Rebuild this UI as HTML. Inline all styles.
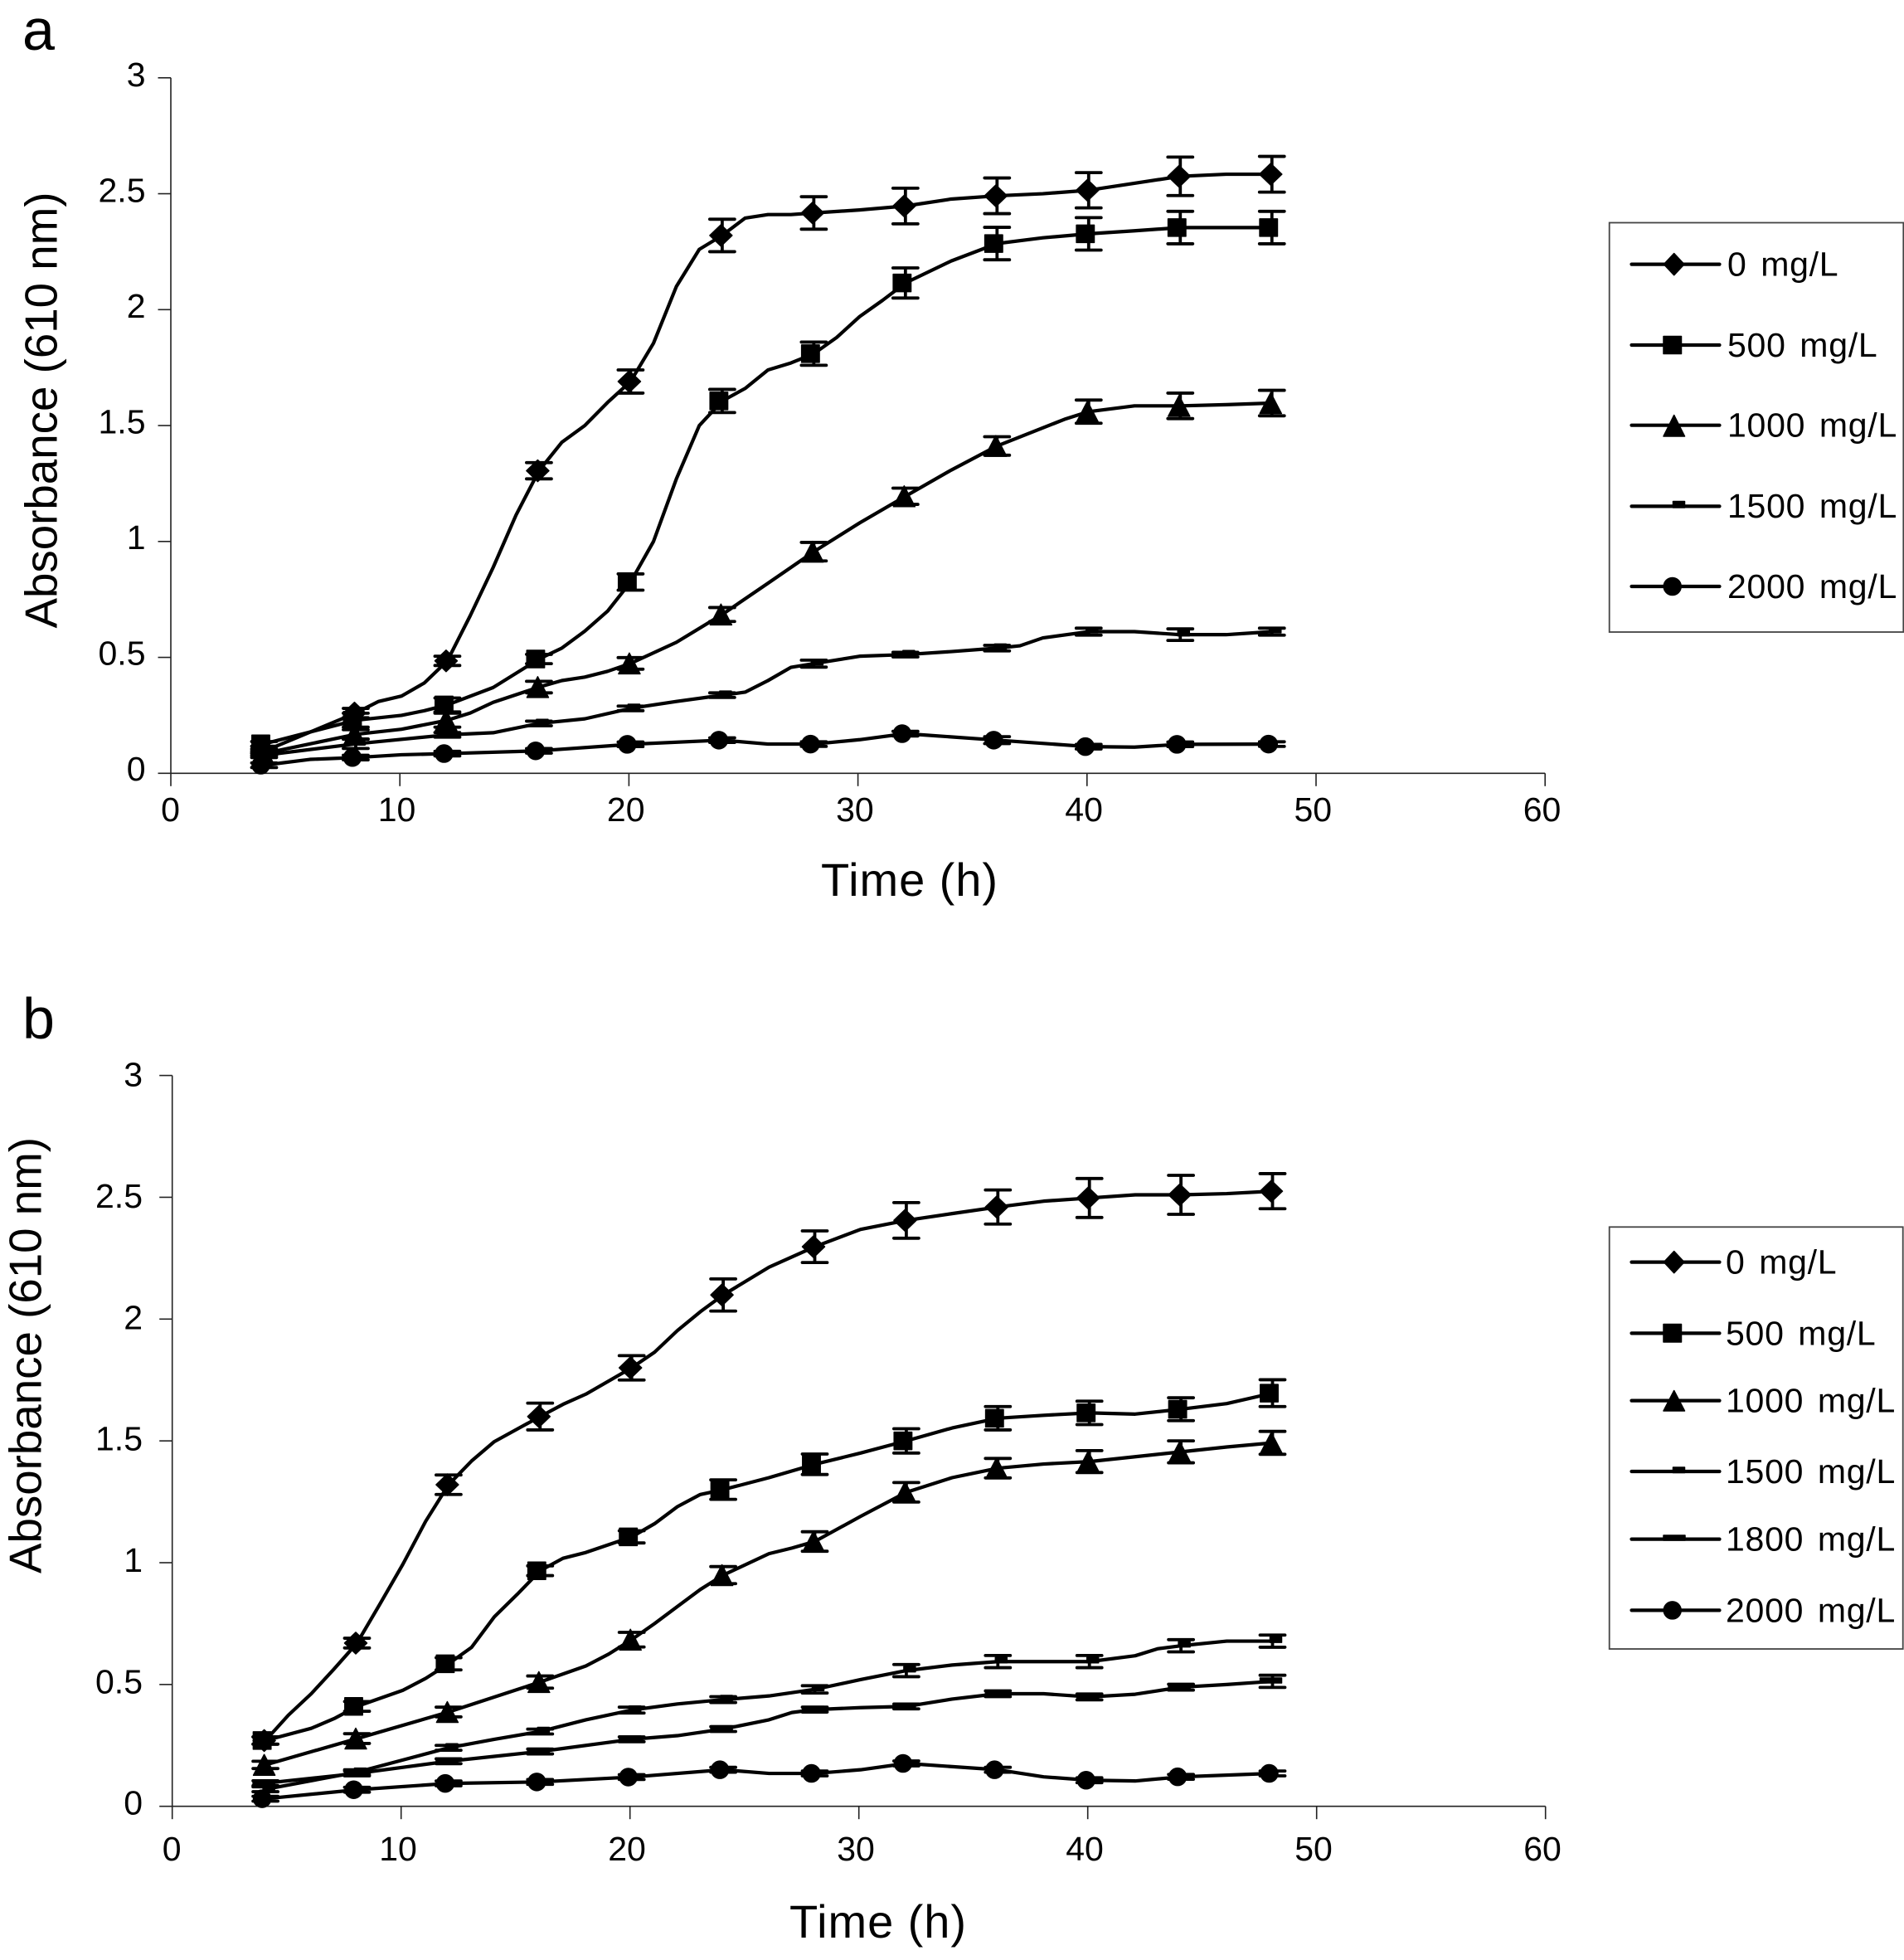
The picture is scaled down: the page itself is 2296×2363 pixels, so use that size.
<!DOCTYPE html>
<html lang="en">
<head>
<meta charset="utf-8">
<title>Absorbance over time</title>
<style>
html,body{margin:0;padding:0;background:#fff;}
svg{display:block;font-family:"Liberation Sans",Arial,sans-serif;fill:#000;}
.lg{font-size:41px;letter-spacing:.75px;word-spacing:4.5px;}
.ln{stroke:#000;stroke-width:4.2;stroke-linecap:round;fill:none;}
.mk{fill:#000;stroke:#000;stroke-width:1.5;stroke-linejoin:round;}
</style>
</head>
<body>
<svg id="chart" xmlns="http://www.w3.org/2000/svg" width="2296" height="2363" viewBox="0 0 2296 2363">
<rect x="0" y="0" width="2296" height="2363" fill="#fff"/>

<text x="27" y="60" font-size="70">a</text>
<g id="panel-a"></g>
<text transform="translate(68.5,757.5) rotate(-90)" font-size="55" textLength="526" lengthAdjust="spacingAndGlyphs">Absorbance (610 nm)</text>
<text x="990" y="1080" font-size="56" textLength="213" lengthAdjust="spacing">Time (h)</text>

<g>
<rect x="1940.7" y="268.5" width="354.6" height="493.5" fill="#fff" stroke="#444" stroke-width="1.8"/>
<g>
<line class="ln" x1="1967.5" x2="2073.5" y1="318.6" y2="318.6"/><polygon class="mk" points="2018.7,305.5 2031,318.6 2018.7,331.7 2006.4,318.6"/>
<text class="lg" x="2083" y="332.5">0 mg/L</text></g>
<g>
<line class="ln" x1="1967.5" x2="2073.5" y1="416" y2="416"/><rect class="mk" x="2006" y="405.5" width="21.5" height="21"/>
<text class="lg" x="2083" y="430">500 mg/L</text></g>
<g>
<line class="ln" x1="1967.5" x2="2073.5" y1="512.7" y2="512.7"/><polygon class="mk" points="2018.7,500.5 2031.5,526 2006,526"/>
<text class="lg" x="2083" y="526.5">1000 mg/L</text></g>
<g>
<line class="ln" x1="1967.5" x2="2073.5" y1="610.4" y2="610.4"/><rect class="mk" x="2017.5" y="604.5" width="14" height="7.5"/>
<text class="lg" x="2083" y="624">1500 mg/L</text></g>
<g>
<line class="ln" x1="1967.5" x2="2073.5" y1="707" y2="707"/><circle class="mk" cx="2016.7" cy="707" r="10.5"/>
<text class="lg" x="2083" y="721">2000 mg/L</text></g>
</g>

<text x="27" y="1252" font-size="70">b</text>
<g id="panel-b"></g>
<text transform="translate(49.5,1897) rotate(-90)" font-size="55" textLength="526" lengthAdjust="spacingAndGlyphs">Absorbance (610 nm)</text>
<text x="952" y="2336" font-size="56" textLength="213" lengthAdjust="spacing">Time (h)</text>

<g>
<rect x="1940.7" y="1479.3" width="354" height="508.7" fill="#fff" stroke="#444" stroke-width="1.8"/>
<g>
<line class="ln" x1="1967.5" x2="2073.5" y1="1521.6" y2="1521.6"/><polygon class="mk" points="2018.7,1508.5 2031,1521.6 2018.7,1534.7 2006.4,1521.6"/>
<text class="lg" x="2081" y="1535.5">0 mg/L</text></g>
<g>
<line class="ln" x1="1967.5" x2="2073.5" y1="1607.4" y2="1607.4"/><rect class="mk" x="2006" y="1596.5" width="21.5" height="21.5"/>
<text class="lg" x="2081" y="1621.5">500 mg/L</text></g>
<g>
<line class="ln" x1="1967.5" x2="2073.5" y1="1688.6" y2="1688.6"/><polygon class="mk" points="2018.7,1676.5 2031.5,1701 2006,1701"/>
<text class="lg" x="2081" y="1702.5">1000 mg/L</text></g>
<g>
<line class="ln" x1="1967.5" x2="2073.5" y1="1774" y2="1774"/><rect class="mk" x="2017.5" y="1769" width="14" height="6.5"/>
<text class="lg" x="2081" y="1788">1500 mg/L</text></g>
<g>
<line class="ln" x1="1967.5" x2="2073.5" y1="1855.6" y2="1855.6"/><rect class="mk" x="2006" y="1851" width="26" height="6"/>
<text class="lg" x="2081" y="1869.5">1800 mg/L</text></g>
<g>
<line class="ln" x1="1967.5" x2="2073.5" y1="1941.4" y2="1941.4"/><circle class="mk" cx="2016.7" cy="1941.4" r="10.5"/>
<text class="lg" x="2081" y="1955.5">2000 mg/L</text></g>
</g>
</svg>

<script>
// Shared axis data
const xTickValues = [0, 10, 20, 30, 40, 50, 60];
const xTickLabels = ["0", "10", "20", "30", "40", "50", "60"];
const yTickValues = [0, 0.5, 1, 1.5, 2, 2.5, 3];
const yTickLabels = ["0", "0.5", "1", "1.5", "2", "2.5", "3"];
const markerHours = [4, 8, 12, 16, 20, 24, 28, 32, 36, 40, 44, 48];

// Panel a
const a0Hours = [4,8,9,10,11,12,13,14,15,16,17,18,19,20,21,22,23,24,25,26,27,28,30,32,34,36,38,40,42,44,46,48];
const a0Values = [.095,.26,.31,.333,.39,.485,.68,.888,1.114,1.305,1.428,1.5,1.6,1.69,1.855,2.1,2.26,2.32,2.395,2.41,2.41,2.417,2.43,2.447,2.477,2.491,2.5,2.515,2.545,2.575,2.584,2.584];
const a0Errors = [.01,.02,.02,.035,.05,.07,.07,.077,.077,.076,.083,.077];

const a1Hours = [4,8,10,11,12,14,16,17,18,19,20,21,22,23,24,25,26,27,28,29,30,31,32,34,36,38,40,42,44,46,48];
const a1Values = [.127,.229,.25,.27,.295,.37,.493,.54,.613,.7,.825,1,1.27,1.5,1.606,1.66,1.74,1.77,1.81,1.88,1.97,2.04,2.115,2.21,2.285,2.31,2.327,2.34,2.354,2.354,2.354];
const a1Errors = [.01,.03,.03,.02,.035,.05,.05,.065,.07,.07,.07,.07];

const a2Hours = [4,8,10,12,13,14,16,17,18,19,20,22,24,26,28,30,32,34,36,39,40,42,44,46,48];
const a2Values = [.086,.168,.19,.229,.26,.306,.372,.4,.415,.44,.474,.565,.685,.82,.956,1.08,1.195,1.308,1.412,1.529,1.56,1.585,1.585,1.59,1.597];
const a2Errors = [.01,.02,.03,.025,.025,.03,.04,.035,.04,.05,.055,.055];

const a3Hours = [4,8,12,14,16,18,20,22,24,25,26,27,28,30,32,34,36,37,38,40,42,44,46,48];
const a3Values = [.078,.127,.166,.175,.215,.235,.28,.31,.337,.35,.4,.457,.473,.505,.512,.525,.54,.55,.584,.611,.611,.598,.598,.611];
const a3Errors = [.01,.02,.01,.01,.01,.01,.015,.01,.012,.015,.025,.015];

const a4Hours = [4,6,8,10,12,16,20,24,26,28,30,32,36,40,42,44,48];
const a4Values = [.035,.06,.068,.08,.085,.097,.125,.143,.126,.126,.145,.171,.143,.115,.113,.125,.126];
const a4Errors = [.01,.01,.01,.01,.01,.01,.01,.01,.015,.01,.01,.01];

// Panel b
const b0Hours = [4,5,6,7,8,9,10,11,12,13,14,16,17,18,20,21,22,23,24,26,28,30,32,34,36,38,40,42,44,46,48];
const b0Values = [.27,.374,.462,.564,.67,.83,.993,1.17,1.32,1.417,1.497,1.6,1.65,1.692,1.8,1.864,1.953,2.03,2.099,2.213,2.297,2.368,2.405,2.433,2.46,2.484,2.497,2.51,2.51,2.515,2.525];
const b0Errors = [.015,.02,.04,.055,.05,.066,.065,.073,.07,.08,.08,.072];

const b1Hours = [4,6,7,8,10,11,12,13,14,15,16,17,18,20,21,22,23,24,26,28,30,32,34,36,38,40,42,44,46,48];
const b1Values = [.27,.32,.36,.41,.476,.525,.585,.652,.778,.87,.967,1.018,1.042,1.106,1.16,1.23,1.28,1.3,1.349,1.404,1.45,1.5,1.553,1.593,1.605,1.615,1.61,1.63,1.653,1.696];
const b1Errors = [.015,.02,.025,.02,.025,.04,.042,.05,.048,.048,.047,.055];

const b2Hours = [4,8,12,16,18,19,20,21,22,23,24,26,27,28,30,32,34,36,38,40,42,44,46,48];
const b2Values = [.17,.278,.387,.51,.576,.625,.684,.75,.82,.89,.949,1.037,1.06,1.087,1.19,1.289,1.349,1.388,1.405,1.415,1.435,1.455,1.475,1.492];
const b2Errors = [.015,.02,.02,.025,.03,.035,.04,.04,.04,.045,.045,.047];

const b3Hours = [4,8,10,12,14,16,18,20,22,24,26,28,30,32,34,36,38,40,42,43,44,46,48];
const b3Values = [.07,.14,.19,.24,.275,.307,.355,.395,.42,.438,.453,.48,.52,.557,.58,.594,.594,.594,.618,.647,.659,.678,.678];
const b3Errors = [.01,.01,.01,.01,.012,.012,.015,.025,.025,.025,.025,.025];

const b4Hours = [4,8,12,16,20,22,24,26,27,28,30,32,34,36,38,40,42,44,46,48];
const b4Values = [.095,.135,.185,.225,.275,.29,.317,.355,.385,.397,.405,.41,.44,.462,.462,.449,.46,.489,.5,.513];
const b4Errors = [.01,.01,.01,.01,.01,.01,.01,.01,.012,.012,.012,.025];

const b5Hours = [4,8,12,16,20,24,26,28,30,32,36,38,40,42,44,48];
const b5Values = [.031,.068,.094,.1,.12,.15,.135,.135,.15,.176,.15,.121,.107,.104,.121,.135];
const b5Errors = [.01,.01,.01,.01,.01,.01,.01,.01,.01,.01,.01,.01];

const SVG_NS = "http://www.w3.org/2000/svg";

function make(parent, tag, attrs) {
  const el = document.createElementNS(SVG_NS, tag);
  for (const k in attrs) el.setAttribute(k, attrs[k]);
  parent.appendChild(el);
  return el;
}

function drawMarker(g, kind, px, py) {
  const style = {fill: "#000", stroke: "#000", "stroke-width": 1.5, "stroke-linejoin": "round"};
  let el;
  if (kind === "diamond") {
    const c = px - 1.5;
    el = make(g, "polygon", Object.assign({points: [c, py - 13, c + 13.5, py, c, py + 13, c - 13.5, py].join(" ")}, style));
  } else if (kind === "square") {
    el = make(g, "rect", Object.assign({x: px - 4 - 10.7, y: py - 10.5, width: 21.4, height: 21}, style));
  } else if (kind === "triangle") {
    const c = px - 1.5;
    el = make(g, "polygon", Object.assign({points: [c, py - 12.5, c + 13, py + 12.5, c - 13, py + 12.5].join(" ")}, style));
  } else if (kind === "smallDash") {
    el = make(g, "rect", Object.assign({x: px - 3, y: py - 5, width: 14, height: 6.5}, style));
  } else if (kind === "wideDash") {
    el = make(g, "rect", Object.assign({x: px - 15, y: py - 4, width: 26, height: 6}, style));
  } else {
    el = make(g, "circle", Object.assign({cx: px - 4, cy: py, r: 10.5}, style));
  }
  
  
}

function drawPanel(rootId, prefix, frame, seriesList) {
  const root = document.getElementById(rootId);
  const xAxis = function (h) { return frame.x0 + h * frame.sx; };
  const yAxis = function (v) { return frame.y0 - v * frame.sy; };
  const markX = function (h) { return xAxis(h) + 2; };

  const axisStyle = {stroke: "#222", "stroke-width": 1.6};

  const yLine = make(root, "line", Object.assign({x1: xAxis(0), x2: xAxis(0), y1: yAxis(3), y2: yAxis(0)}, axisStyle));
  
  

  const xLine = make(root, "line", Object.assign({x1: xAxis(0), x2: xAxis(60), y1: yAxis(0), y2: yAxis(0)}, axisStyle));
  
  

  yTickValues.forEach(function (v, i) {
    const t = make(root, "line", Object.assign({x1: xAxis(0) - 15.5, x2: xAxis(0), y1: yAxis(v), y2: yAxis(v)}, axisStyle));
    
    
    const lbl = make(root, "text", {x: frame.yLabelRight, y: yAxis(v) + frame.yBase + frame.yBaseSlope * v, "text-anchor": "end", "font-size": 41});
    lbl.textContent = yTickLabels[i];
    
    
  });

  xTickValues.forEach(function (h, i) {
    const t = make(root, "line", Object.assign({x1: xAxis(h), x2: xAxis(h), y1: yAxis(0), y2: yAxis(0) + 15.5}, axisStyle));
    
    
    const lbl = make(root, "text", {x: xAxis(h) - (i === 0 ? 0.5 : 3.7), y: frame.xLabelY, "text-anchor": "middle", "font-size": 41});
    lbl.textContent = xTickLabels[i];
    
    
  });

  seriesList.forEach(function (s) {
    const g = make(root, "g", {});
    
    

    const pts = s.hours.map(function (h, i) { return markX(h) + "," + yAxis(s.values[i]); }).join(" ");
    const line = make(g, "polyline", {points: pts, fill: "none", stroke: "#000", "stroke-width": 4.2, "stroke-linejoin": "round", "stroke-linecap": "round"});
    
    

    markerHours.forEach(function (h, i) {
      const idx = s.hours.indexOf(h);
      const v = s.values[idx];
      const e = s.errors[i];
      const px = markX(h);
      const eb = make(g, "path", {
        d: "M" + (px - 15) + " " + yAxis(v + e) + "H" + (px + 15) +
           "M" + (px - 15) + " " + yAxis(v - e) + "H" + (px + 15) +
           "M" + px + " " + yAxis(v + e) + "V" + yAxis(v - e),
        fill: "none", stroke: "#000", "stroke-width": 3.8, "stroke-linecap": "round"
      });
      
      
      drawMarker(g, s.marker, px, yAxis(v));
    });
  });
}

drawPanel("panel-a", "a",
  {x0: 206, sx: 27.62, y0: 932.3, sy: 279.5, yLabelRight: 175.5, yBase: 8.5, yBaseSlope: 0.6, xLabelY: 990},
  [
    {name: "2000-mg-l", marker: "circle", hours: a4Hours, values: a4Values, errors: a4Errors},
    {name: "1500-mg-l", marker: "smallDash", hours: a3Hours, values: a3Values, errors: a3Errors},
    {name: "1000-mg-l", marker: "triangle", hours: a2Hours, values: a2Values, errors: a2Errors},
    {name: "500-mg-l", marker: "square", hours: a1Hours, values: a1Values, errors: a1Errors},
    {name: "0-mg-l", marker: "diamond", hours: a0Hours, values: a0Values, errors: a0Errors}
  ]);

drawPanel("panel-b", "b",
  {x0: 207.7, sx: 27.6, y0: 2177.7, sy: 293.7, yLabelRight: 172, yBase: 10, yBaseSlope: 1, xLabelY: 2243},
  [
    {name: "2000-mg-l", marker: "circle", hours: b5Hours, values: b5Values, errors: b5Errors},
    {name: "1800-mg-l", marker: "wideDash", hours: b4Hours, values: b4Values, errors: b4Errors},
    {name: "1500-mg-l", marker: "smallDash", hours: b3Hours, values: b3Values, errors: b3Errors},
    {name: "1000-mg-l", marker: "triangle", hours: b2Hours, values: b2Values, errors: b2Errors},
    {name: "500-mg-l", marker: "square", hours: b1Hours, values: b1Values, errors: b1Errors},
    {name: "0-mg-l", marker: "diamond", hours: b0Hours, values: b0Values, errors: b0Errors}
  ]);
</script>
</body>
</html>
